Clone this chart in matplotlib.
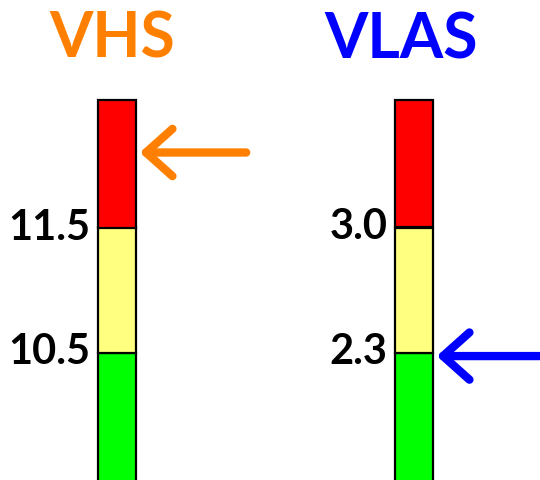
import matplotlib.pyplot as plt
from matplotlib import font_manager

# gauge data
names = ["VHS", "VLAS"]
name_colors = ["#FF8000", "#0000FF"]
lower_cut = [10.5, 2.3]     # green / yellow boundary
upper_cut = [11.5, 3.0]     # yellow / red boundary
cut_labels = [["10.5", "11.5"], ["2.3", "3.0"]]
values = [12.1, 2.28]       # where the arrow points

zone_colors = ["#00FF00", "#FFFF80", "#FF0000"]

W, H = 540, 480
fig = plt.figure(figsize=(W / 100, H / 100), dpi=100)

fams = [f.name for f in font_manager.fontManager.ttflist]
font = "Lato" if "Lato" in fams else "DejaVu Sans"

bar_left_px = [98, 395]
bar_w_px = 38
top_px, bottom_px = 100, 480
title_shift = [-0.12, -0.33]

for i in range(2):
    ax = fig.add_axes([bar_left_px[i] / W, 0, bar_w_px / W, (bottom_px - top_px) / H])
    lo, hi = lower_cut[i], upper_cut[i]
    band = hi - lo
    ymin, ymax = lo - band * 1.02, hi + band * 1.02
    ax.set_xlim(0, 1)
    ax.set_ylim(ymin, ymax)
    edges = [ymin - band, lo, hi, ymax]
    for k in range(3):
        ax.bar(0.5, edges[k + 1] - edges[k], bottom=edges[k], width=1,
               color=zone_colors[k], edgecolor="black", linewidth=1.6, clip_on=False)
    ax.axis("off")

    for y, lab in zip([lo, hi], cut_labels[i]):
        ax.text(-0.2, y, lab, transform=ax.get_yaxis_transform(), ha="right", va="center",
                fontsize=30, fontweight="bold", family=font, color="black")

    ax.text(0.5 + title_shift[i], ymax + band * 0.336, names[i], ha="center", va="baseline",
            fontsize=45, fontweight="bold", family=font, color=name_colors[i], clip_on=False)

    ax.annotate("", xy=(1.1, values[i]), xytext=(3.9, values[i]),
                xycoords=ax.get_yaxis_transform(), textcoords=ax.get_yaxis_transform(),
                arrowprops=dict(arrowstyle="->,head_length=19,head_width=17",
                                mutation_scale=1, color=name_colors[i], lw=6,
                                shrinkA=0, shrinkB=0, capstyle="round", joinstyle="round"),
                annotation_clip=False)

fig.savefig("out.png", dpi=100)
